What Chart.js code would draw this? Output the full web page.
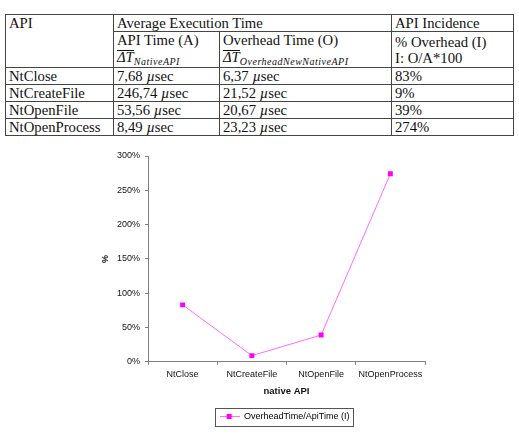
<!DOCTYPE html>
<html><head><meta charset="utf-8">
<script src="https://cdn.jsdelivr.net/npm/chart.js@4/dist/chart.umd.min.js"></script>
<style>
html,body{margin:0;padding:0;background:#fff;width:519px;height:438px;overflow:hidden;}
#t{position:absolute;left:5px;top:14px;width:508px;border-collapse:collapse;table-layout:fixed;
 font-family:"Liberation Serif","Times New Roman",serif;font-size:14.7px;color:#111;}
#t td{border:1px solid #444;padding:0 2px 0 3px;line-height:16px;vertical-align:middle;white-space:nowrap;overflow:hidden;}
#t td.top{vertical-align:top;}
.ov{display:inline-block;border-top:1px solid #111;font-style:italic;line-height:13px;margin-top:2px;}
.sb{font-style:italic;font-size:10px;position:relative;top:3px;letter-spacing:0.5px;}
#c{position:absolute;left:0;top:140px;}
</style></head>
<body>
<table id="t">
<colgroup><col style="width:108px"><col style="width:106px"><col style="width:172px"><col style="width:122px"></colgroup>
<tbody id="tb"></tbody>
</table>
<canvas id="c" width="519" height="298"></canvas>
<script>
// ---- data ----
const categories = ['NtClose', 'NtCreateFile', 'NtOpenFile', 'NtOpenProcess'];
const apiTime = ['7,68', '246,74', '53,56', '8,49'];
const overheadTime = ['6,37', '21,52', '20,67', '23,23'];
const incidence = [83, 9, 39, 274];
const seriesLabel = 'OverheadTime/ApiTime (I)';
const xTitle = 'native API';
const yTitle = '%';

// ---- table ----
const tb = document.getElementById('tb');
let html = '';
html += '<tr style="height:17px"><td rowspan="2" class="top">API</td><td colspan="2">Average Execution Time</td><td>API Incidence</td></tr>';
html += '<tr style="height:33px"><td>API Time (A)<br><span class="ov">&Delta;T</span><span class="sb">NativeAPI</span></td>' +
        '<td>Overhead Time (O)<br><span class="ov">&Delta;T</span><span class="sb">OverheadNewNativeAPI</span></td>' +
        '<td>% Overhead (I)<br>I: O/A*100</td></tr>';
categories.forEach((c, i) => {
  html += '<tr style="height:17px"><td>' + c + '</td><td>' + apiTime[i] + ' <i>&micro;</i>sec</td><td>' +
          overheadTime[i] + ' <i>&micro;</i>sec</td><td>' + incidence[i] + '%</td></tr>';
});
tb.innerHTML = html;

// ---- chart ----
const markColor = '#ff00ff';
const lineColor = 'rgba(255,60,255,0.75)';
const axisColor = '#808080';
const legendShift = 22;
const legendFont = 'Liberation Sans, Arial, sans-serif';
const legendFontSize = 9;

const sym = document.createElement('canvas');
sym.width = 20; sym.height = 7;
const sc = sym.getContext('2d');
sc.strokeStyle = lineColor; sc.lineWidth = 1;
sc.beginPath(); sc.moveTo(0, 3.5); sc.lineTo(20, 3.5); sc.stroke();
sc.fillStyle = markColor; sc.fillRect(7, 1, 5, 5);

const legendBox = {
  id: 'legendBox',
  afterLayout(chart) {
    const lg = chart.legend;
    lg.left += legendShift; lg.right += legendShift;
  },
  afterDraw(chart) {
    const lg = chart.legend;
    const ctx = chart.ctx;
    ctx.save();
    ctx.font = legendFontSize + 'px ' + legendFont;
    const tw = ctx.measureText(seriesLabel).width;
    const itemW = 20 + legendFontSize / 2 + tw;
    const cx = (lg.left + lg.right) / 2;
    const left = cx - itemW / 2;
    const cy = lg.top + 6 + legendFontSize / 2;
    ctx.strokeStyle = '#555';
    ctx.lineWidth = 1;
    const l = Math.round(left - 5) + 0.5, r = Math.round(left + itemW + 4) + 0.5;
    const t = Math.round(cy - 9) + 0.5, b = Math.round(cy + 9) + 0.5;
    ctx.strokeRect(l, t, r - l, b - t);
    ctx.restore();
  }
};

new Chart(document.getElementById('c'), {
  type: 'line',
  data: {
    labels: categories,
    datasets: [{
      label: seriesLabel,
      data: incidence,
      borderColor: lineColor,
      borderWidth: 1,
      backgroundColor: markColor,
      pointStyle: 'rect',
      pointRadius: 3.5,
      pointBorderWidth: 0,
      pointBackgroundColor: markColor,
      tension: 0
    }]
  },
  options: {
    responsive: false,
    animation: false,
    devicePixelRatio: 1,
    layout: { padding: { left: 100, right: 94, top: 16, bottom: 7 } },
    plugins: {
      tooltip: { enabled: false },
      legend: {
        position: 'bottom',
        labels: {
          usePointStyle: true,
          pointStyleWidth: 20,
          padding: 6,
          color: '#111',
          font: { family: legendFont, size: legendFontSize },
          generateLabels: () => [{ text: seriesLabel, pointStyle: sym, fillStyle: markColor, strokeStyle: lineColor, lineWidth: 0, hidden: false, datasetIndex: 0 }]
        }
      }
    },
    scales: {
      x: {
        offset: true,
        grid: { drawOnChartArea: false, drawTicks: true, tickLength: 3, offset: true, color: axisColor },
        border: { color: axisColor, width: 1 },
        ticks: { color: '#111', padding: 4, maxRotation: 0, autoSkip: false,
                 font: { family: 'Liberation Sans, Arial, sans-serif', size: 9 } },
        title: { display: true, text: xTitle, color: '#111', padding: { top: 2, bottom: 9 },
                 font: { family: 'Liberation Sans, Arial, sans-serif', size: 9.5, weight: 'bold' } }
      },
      y: {
        min: 0, max: 300,
        afterFit(s) { s.width = 48; },
        grid: { drawOnChartArea: false, drawTicks: true, tickLength: 3, color: axisColor },
        border: { color: axisColor, width: 1 },
        ticks: { stepSize: 50, color: '#111', padding: 5, callback: v => v + '%',
                 font: { family: 'Liberation Sans, Arial, sans-serif', size: 9 } },
        title: { display: true, text: yTitle, color: '#111', padding: 0,
                 font: { family: 'Liberation Sans, Arial, sans-serif', size: 9, weight: 'bold' } }
      }
    }
  },
  plugins: [legendBox]
});
</script>
</body></html>
